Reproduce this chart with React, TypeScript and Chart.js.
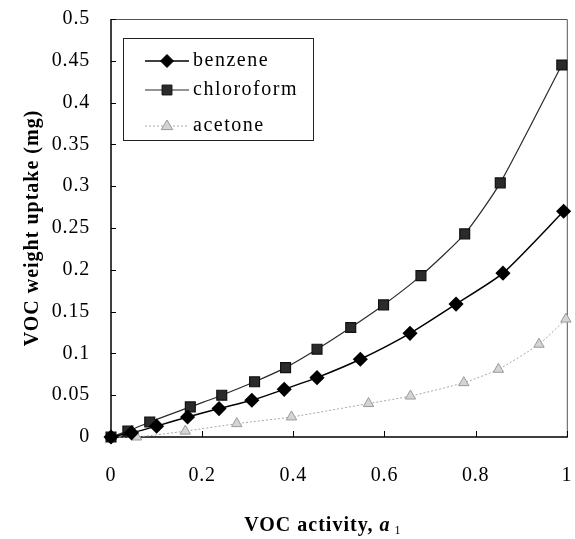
import React, { useEffect, useRef } from 'react';
import { Chart, registerables } from 'chart.js';

Chart.register(...registerables);

// ---- data ----
const seriesNames = ['benzene', 'chloroform', 'acetone'];

const benzeneX = [0, 0.045, 0.1, 0.168, 0.237, 0.309, 0.38, 0.452, 0.547, 0.656, 0.757, 0.86, 0.993];
const benzeneY = [0, 0.005, 0.013, 0.024, 0.034, 0.044, 0.057, 0.071, 0.093, 0.124, 0.159, 0.196, 0.27];

const chloroformX = [0, 0.037, 0.085, 0.174, 0.243, 0.315, 0.383, 0.452, 0.526, 0.598, 0.68, 0.776, 0.854, 0.989];
const chloroformY = [0, 0.007, 0.018, 0.036, 0.05, 0.066, 0.083, 0.105, 0.131, 0.158, 0.193, 0.243, 0.304, 0.445];

const acetoneX = [0, 0.056, 0.163, 0.276, 0.396, 0.565, 0.657, 0.774, 0.85, 0.939, 0.998];
const acetoneY = [0, 0.0, 0.007, 0.016, 0.024, 0.04, 0.049, 0.065, 0.081, 0.111, 0.141];

const xTickValues = [0, 0.2, 0.4, 0.6, 0.8, 1];
const xTickLabels = ['0', '0.2', '0.4', '0.6', '0.8', '1'];
const yTickValues = [0, 0.05, 0.1, 0.15, 0.2, 0.25, 0.3, 0.35, 0.4, 0.45, 0.5];
const yTickLabels = ['0', '0.05', '0.1', '0.15', '0.2', '0.25', '0.3', '0.35', '0.4', '0.45', '0.5'];

const xTitleMain = 'VOC activity, ';
const xTitleVar = 'a';
const xTitleSub = '1';
const yTitle = 'VOC weight uptake (mg)';

const FONT = '"Liberation Serif", "Times New Roman", serif';

function zip(xs: number[], ys: number[]) {
  return xs.map((x, i) => ({ x, y: ys[i] }));
}

function drawMarker(ctx: CanvasRenderingContext2D, style: string, x: number, y: number, r: number, fill: string, stroke: string) {
  ctx.save();
  ctx.fillStyle = fill;
  ctx.strokeStyle = stroke;
  ctx.lineWidth = 1;
  ctx.setLineDash([]);
  ctx.beginPath();
  if (style === 'rectRot') {
    ctx.moveTo(x - r, y);
    ctx.lineTo(x, y - r);
    ctx.lineTo(x + r, y);
    ctx.lineTo(x, y + r);
    ctx.closePath();
  } else if (style === 'rect') {
    const s = Math.SQRT1_2 * r;
    ctx.rect(x - s, y - s, 2 * s, 2 * s);
  } else {
    ctx.moveTo(x, y - r);
    ctx.lineTo(x + r * 0.95, y + r * 0.6);
    ctx.lineTo(x - r * 0.95, y + r * 0.6);
    ctx.closePath();
  }
  ctx.fill();
  ctx.stroke();
  ctx.restore();
}

const spacingPlugin = {
  id: 'spacing',
  beforeUpdate(chart: any) {
    chart.ctx.letterSpacing = '0.8px';
  },
  beforeDraw(chart: any) {
    chart.ctx.letterSpacing = '0.8px';
  },
};

const framePlugin = {
  id: 'frame',
  beforeDatasetsDraw(chart: any) {
    const { ctx, chartArea } = chart;
    const { left, right, top, bottom } = chartArea;
    const xs = chart.scales.x;
    const ys = chart.scales.y;
    ctx.save();
    ctx.setLineDash([]);
    ctx.strokeStyle = '#555';
    ctx.lineWidth = 1;
    ctx.beginPath();
    ctx.moveTo(left, top + 0.5);
    ctx.lineTo(right + 0.5, top + 0.5);
    ctx.lineTo(right + 0.5, bottom);
    ctx.stroke();
    ctx.strokeStyle = '#000';
    ctx.lineWidth = 1.5;
    ctx.beginPath();
    ctx.moveTo(left, top);
    ctx.lineTo(left, bottom);
    ctx.lineTo(right + 1, bottom);
    ctx.stroke();
    ctx.lineWidth = 1;
    ctx.beginPath();
    yTickValues.forEach((v) => {
      const py = Math.round(ys.getPixelForValue(v)) + 0.5;
      ctx.moveTo(left, py);
      ctx.lineTo(left + 5, py);
    });
    xTickValues.forEach((v) => {
      const px = Math.round(xs.getPixelForValue(v)) + 0.5;
      ctx.moveTo(px, bottom);
      ctx.lineTo(px, bottom - 6);
    });
    ctx.stroke();
    ctx.restore();
  },
  afterDraw(chart: any) {
    const { ctx, chartArea } = chart;
    ctx.save();
    ctx.fillStyle = '#000';
    ctx.font = `bold 20px ${FONT}`;
    ctx.letterSpacing = '1px';
    ctx.textAlign = 'center';
    ctx.textBaseline = 'middle';
    ctx.translate(33, (chartArea.top + chartArea.bottom) / 2);
    ctx.rotate(-Math.PI / 2);
    ctx.fillText(yTitle, 0, 0);
    ctx.restore();

    ctx.save();
    ctx.fillStyle = '#000';
    ctx.letterSpacing = '1px';
    ctx.textBaseline = 'alphabetic';
    ctx.textAlign = 'left';
    const fMain = `bold 20px ${FONT}`;
    const fVar = `italic bold 20px ${FONT}`;
    const fSub = `12px ${FONT}`;
    ctx.font = fMain;
    const w1 = ctx.measureText(xTitleMain).width;
    ctx.font = fVar;
    const w2 = ctx.measureText(xTitleVar).width;
    ctx.font = fSub;
    const w3 = ctx.measureText(xTitleSub).width;
    const total = w1 + w2 + 4 + w3;
    let x = (chartArea.left + chartArea.right) / 2 - 16 - total / 2;
    const base = 531;
    ctx.font = fMain;
    ctx.fillText(xTitleMain, x, base);
    x += w1;
    ctx.font = fVar;
    ctx.fillText(xTitleVar, x, base);
    x += w2 + 4;
    ctx.font = fSub;
    ctx.fillText(xTitleSub, x, base + 3);
    ctx.restore();

    const box = { l: 123, t: 38, r: 313, b: 140 };
    const rows = [61, 90, 126];
    ctx.save();
    ctx.fillStyle = '#fff';
    ctx.fillRect(box.l, box.t, box.r - box.l, box.b - box.t);
    ctx.strokeStyle = '#222';
    ctx.lineWidth = 1;
    ctx.setLineDash([]);
    ctx.strokeRect(box.l + 0.5, box.t + 0.5, box.r - box.l, box.b - box.t);
    chart.data.datasets.forEach((ds: any, i: number) => {
      const y = rows[i];
      ctx.save();
      ctx.strokeStyle = ds.borderColor;
      ctx.lineWidth = ds.borderWidth;
      ctx.setLineDash(ds.borderDash || []);
      ctx.beginPath();
      ctx.moveTo(145, y);
      ctx.lineTo(189, y);
      ctx.stroke();
      ctx.restore();
      drawMarker(ctx, ds.pointStyle, 167, y, ds.pointRadius, ds.pointBackgroundColor, ds.pointBorderColor);
      ctx.fillStyle = '#000';
      ctx.font = `20px ${FONT}`;
      ctx.letterSpacing = '1.5px';
      ctx.textAlign = 'left';
      ctx.textBaseline = 'middle';
      ctx.fillText(ds.label, 193, y);
    });
    ctx.restore();
  },
};

export default function App() {
  const ref = useRef<HTMLCanvasElement | null>(null);

  useEffect(() => {
    if (!ref.current) return;
    const chart = new Chart(ref.current, {
      type: 'line',
      data: {
        datasets: [
          {
            label: seriesNames[0],
            data: zip(benzeneX, benzeneY),
            borderColor: '#000',
            borderWidth: 1.5,
            pointStyle: 'rectRot',
            pointRadius: 6.5,
            pointBackgroundColor: '#000',
            pointBorderColor: '#000',
            tension: 0.2,
            clip: false,
          } as any,
          {
            label: seriesNames[1],
            data: zip(chloroformX, chloroformY),
            borderColor: '#2a2a2a',
            borderWidth: 1.2,
            pointStyle: 'rect',
            pointRadius: 7,
            pointBackgroundColor: '#2b2b2b',
            pointBorderColor: '#111',
            tension: 0.2,
            clip: false,
          } as any,
          {
            label: seriesNames[2],
            data: zip(acetoneX, acetoneY),
            borderColor: '#a8a8a8',
            borderWidth: 1,
            borderDash: [2, 2],
            pointStyle: 'triangle',
            pointRadius: 6,
            pointBackgroundColor: '#d4d4d4',
            pointBorderColor: '#9a9a9a',
            tension: 0.2,
            clip: false,
          } as any,
        ],
      },
      options: {
        animation: false,
        responsive: false,
        devicePixelRatio: 1,
        layout: { padding: { left: 0, top: 19, right: 4, bottom: 0 } },
        plugins: {
          legend: { display: false },
          tooltip: { enabled: false },
        },
        scales: {
          x: {
            type: 'linear',
            min: 0,
            max: 1,
            afterBuildTicks: (s: any) => {
              s.ticks = xTickValues.map((v) => ({ value: v }));
            },
            afterFit: (s: any) => {
              s.height = 102;
              s.paddingLeft = 0;
              s.paddingRight = 0;
            },
            grid: { display: false, drawTicks: false },
            border: { display: false },
            ticks: {
              color: '#000',
              font: { family: FONT, size: 20 },
              padding: 27,
              maxRotation: 0,
              callback: (_v: any, i: number) => xTickLabels[i],
            },
          },
          y: {
            type: 'linear',
            min: 0,
            max: 0.5,
            afterBuildTicks: (s: any) => {
              s.ticks = yTickValues.map((v) => ({ value: v }));
            },
            afterFit: (s: any) => {
              s.width = 111;
              s.paddingTop = 0;
              s.paddingBottom = 0;
            },
            grid: { display: false, drawTicks: false },
            border: { display: false },
            ticks: {
              color: '#000',
              font: { family: FONT, size: 20 },
              padding: 21,
              callback: (_v: any, i: number) => yTickLabels[i],
            },
          },
        },
      } as any,
      plugins: [spacingPlugin, framePlugin],
    });
    return () => chart.destroy();
  }, []);

  return (
    <div style={{ position: 'absolute', left: 0, top: 0, width: 575, height: 539, background: '#fff' }}>
      <canvas ref={ref} width={575} height={539} style={{ width: 575, height: 539 }} />
    </div>
  );
}
